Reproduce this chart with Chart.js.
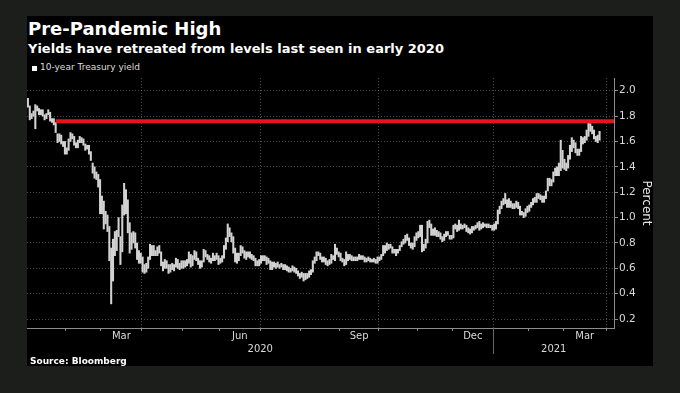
<!DOCTYPE html>
<html>
<head>
<meta charset="utf-8">
<script src="https://cdn.jsdelivr.net/npm/chart.js@4.4.1/dist/chart.umd.min.js"></script>
<style>
  html, body { margin: 0; padding: 0; background: #1c1e1c; }
  body { width: 680px; height: 393px; position: relative; overflow: hidden; font-family: "DejaVu Sans", sans-serif; }
  #panel { position: absolute; left: 27px; top: 16px; width: 626px; height: 350px; background: #000; }
  .txt { position: absolute; white-space: nowrap; }
  #title { left: 28px; top: 20px; font: bold 18px/18px "DejaVu Sans"; color: #fff; }
  #subtitle { left: 28px; top: 42px; font: bold 13px/13px "DejaVu Sans"; color: #fff; }
  #legendBox { position: absolute; left: 32px; top: 66px; width: 5px; height: 5px; background: #fff; }
  #legend { left: 40px; top: 63px; font: 9px/9px "DejaVu Sans"; color: #ddd; }
  #source { left: 30px; top: 357px; font: bold 9px/9px "DejaVu Sans"; color: #fff; }
  #chart { position: absolute; left: 27px; top: 60px; }
</style>
</head>
<body>
<div id="panel"></div>
<div class="txt" id="title">Pre-Pandemic High</div>
<div class="txt" id="subtitle">Yields have retreated from levels last seen in early 2020</div>
<div id="legendBox"></div>
<div class="txt" id="legend">10-year Treasury yield</div>
<canvas id="chart" width="626" height="300"></canvas>
<div class="txt" id="source">Source: Bloomberg</div>
<script>
// trading days shown on the chart, one row per month
const months = ['2020-01', '2020-02', '2020-03', '2020-04', '2020-05', '2020-06', '2020-07', '2020-08',
  '2020-09', '2020-10', '2020-11', '2020-12', '2021-01', '2021-02', '2021-03'];
const tradingDays = [
  [2, 3, 6, 7, 8, 9, 10, 13, 14, 15, 16, 17, 21, 22, 23, 24, 27, 28, 29, 30, 31],
  [3, 4, 5, 6, 7, 10, 11, 12, 13, 14, 18, 19, 20, 21, 24, 25, 26, 27, 28],
  [2, 3, 4, 5, 6, 9, 10, 11, 12, 13, 16, 17, 18, 19, 20, 23, 24, 25, 26, 27, 30, 31],
  [1, 2, 3, 6, 7, 8, 9, 10, 13, 14, 15, 16, 17, 20, 21, 22, 23, 24, 27, 28, 29, 30],
  [1, 4, 5, 6, 7, 8, 11, 12, 13, 14, 15, 18, 19, 20, 21, 22, 26, 27, 28, 29],
  [1, 2, 3, 4, 5, 8, 9, 10, 11, 12, 15, 16, 17, 18, 19, 22, 23, 24, 25, 26, 29, 30],
  [1, 2, 6, 7, 8, 9, 10, 13, 14, 15, 16, 17, 20, 21, 22, 23, 24, 27, 28, 29, 30, 31],
  [3, 4, 5, 6, 7, 10, 11, 12, 13, 14, 17, 18, 19, 20, 21, 24, 25, 26, 27, 28, 31],
  [1, 2, 3, 4, 8, 9, 10, 11, 14, 15, 16, 17, 18, 21, 22, 23, 24, 25, 28, 29, 30],
  [1, 2, 5, 6, 7, 8, 9, 13, 14, 15, 16, 19, 20, 21, 22, 23, 26, 27, 28, 29, 30],
  [2, 3, 4, 5, 6, 9, 10, 12, 13, 16, 17, 18, 19, 20, 23, 24, 25, 27, 30],
  [1, 2, 3, 4, 7, 8, 9, 10, 11, 14, 15, 16, 17, 18, 21, 22, 23, 24, 28, 29, 30, 31],
  [4, 5, 6, 7, 8, 11, 12, 13, 14, 15, 19, 20, 21, 22, 25, 26, 27, 28, 29],
  [1, 2, 3, 4, 5, 8, 9, 10, 11, 12, 16, 17, 18, 19, 22, 23, 24, 25, 26],
  [1, 2, 3, 4, 5, 8, 9, 10, 11, 12, 15, 16, 17, 18, 19, 22, 23, 24, 25, 26, 29, 30, 31]
];

// daily low / high of the 10-year yield (percent), one row per month
const lows = [
  1.87, 1.77, 1.78, 1.80, 1.70, 1.84, 1.81, 1.81, 1.80, 1.77, 1.78, 1.81, 1.76, 1.75, 1.73, 1.67, 1.59, 1.60, 1.58, 1.56, 1.50,
  1.50, 1.53, 1.60, 1.62, 1.57, 1.55, 1.55, 1.59, 1.59, 1.57, 1.53, 1.54, 1.50, 1.45, 1.35, 1.31, 1.30, 1.24, 1.03,
  1.03, 0.91, 0.95, 0.89, 0.66, 0.32, 0.50, 0.70, 0.74, 0.85, 0.63, 0.73, 1.02, 1.03, 0.88, 0.72, 0.75, 0.80, 0.76, 0.67, 0.64, 0.64,
  0.57, 0.56, 0.57, 0.60, 0.67, 0.70, 0.70, 0.70, 0.70, 0.72, 0.62, 0.58, 0.60, 0.60, 0.56, 0.57, 0.59, 0.58, 0.61, 0.60, 0.59, 0.60,
  0.60, 0.61, 0.62, 0.64, 0.61, 0.62, 0.67, 0.66, 0.63, 0.60, 0.61, 0.65, 0.69, 0.67, 0.65, 0.64, 0.66, 0.66, 0.67, 0.63,
  0.64, 0.65, 0.68, 0.75, 0.81, 0.85, 0.81, 0.72, 0.65, 0.64, 0.66, 0.70, 0.72, 0.68, 0.67, 0.69, 0.68, 0.67, 0.66, 0.62, 0.62, 0.62,
  0.64, 0.66, 0.66, 0.63, 0.64, 0.59, 0.59, 0.61, 0.60, 0.61, 0.60, 0.61, 0.59, 0.59, 0.58, 0.57, 0.57, 0.58, 0.57, 0.56, 0.54, 0.52,
  0.53, 0.50, 0.51, 0.52, 0.53, 0.55, 0.57, 0.64, 0.66, 0.70, 0.67, 0.65, 0.65, 0.63, 0.62, 0.63, 0.64, 0.67, 0.66, 0.71, 0.69,
  0.66, 0.65, 0.62, 0.63, 0.66, 0.67, 0.66, 0.66, 0.66, 0.66, 0.67, 0.67, 0.67, 0.65, 0.65, 0.66, 0.65, 0.65, 0.65, 0.64, 0.64,
  0.66, 0.67, 0.70, 0.72, 0.74, 0.75, 0.76, 0.72, 0.72, 0.70, 0.72, 0.74, 0.77, 0.79, 0.80, 0.82, 0.78, 0.76, 0.75, 0.77, 0.82,
  0.84, 0.85, 0.73, 0.74, 0.76, 0.80, 0.92, 0.86, 0.86, 0.86, 0.85, 0.85, 0.83, 0.81, 0.82, 0.85, 0.86, 0.83, 0.83,
  0.84, 0.91, 0.89, 0.90, 0.91, 0.91, 0.92, 0.89, 0.88, 0.87, 0.88, 0.90, 0.91, 0.92, 0.90, 0.91, 0.92, 0.93, 0.92, 0.92, 0.92, 0.90,
  0.90, 0.91, 0.95, 1.03, 1.07, 1.10, 1.11, 1.08, 1.08, 1.08, 1.07, 1.07, 1.08, 1.07, 1.02, 1.02, 1.00, 1.01, 1.04,
  1.05, 1.08, 1.10, 1.12, 1.12, 1.15, 1.14, 1.12, 1.12, 1.15, 1.21, 1.25, 1.25, 1.28, 1.33, 1.33, 1.33, 1.37, 1.39,
  1.38, 1.37, 1.39, 1.46, 1.52, 1.55, 1.51, 1.49, 1.49, 1.52, 1.58, 1.59, 1.61, 1.64, 1.68, 1.66, 1.62, 1.60, 1.59, 1.61
];
const highs = [
  1.94, 1.88, 1.82, 1.84, 1.89, 1.88, 1.86, 1.85, 1.85, 1.81, 1.82, 1.85, 1.83, 1.78, 1.78, 1.75, 1.66, 1.66, 1.65, 1.60, 1.60,
  1.55, 1.62, 1.67, 1.66, 1.64, 1.59, 1.61, 1.64, 1.63, 1.62, 1.58, 1.57, 1.57, 1.52, 1.43, 1.40, 1.36, 1.34, 1.30,
  1.17, 1.13, 1.05, 1.02, 0.93, 0.76, 0.83, 0.89, 0.90, 1.00, 0.85, 1.10, 1.27, 1.22, 1.14, 0.96, 0.88, 0.89, 0.88, 0.80, 0.74, 0.72,
  0.69, 0.63, 0.64, 0.69, 0.79, 0.78, 0.78, 0.74, 0.77, 0.78, 0.73, 0.65, 0.67, 0.66, 0.63, 0.63, 0.64, 0.63, 0.68, 0.67, 0.64, 0.66,
  0.66, 0.66, 0.67, 0.73, 0.71, 0.70, 0.74, 0.73, 0.68, 0.66, 0.66, 0.75, 0.74, 0.71, 0.70, 0.68, 0.72, 0.70, 0.72, 0.70,
  0.68, 0.70, 0.78, 0.84, 0.95, 0.92, 0.88, 0.85, 0.76, 0.72, 0.72, 0.78, 0.77, 0.74, 0.73, 0.73, 0.73, 0.71, 0.70, 0.68, 0.66, 0.67,
  0.70, 0.70, 0.70, 0.69, 0.68, 0.66, 0.65, 0.65, 0.64, 0.65, 0.63, 0.64, 0.63, 0.63, 0.62, 0.61, 0.60, 0.62, 0.61, 0.60, 0.58, 0.56,
  0.57, 0.56, 0.56, 0.56, 0.58, 0.59, 0.66, 0.69, 0.73, 0.73, 0.72, 0.69, 0.69, 0.68, 0.66, 0.67, 0.71, 0.70, 0.79, 0.76, 0.73,
  0.72, 0.68, 0.67, 0.73, 0.71, 0.71, 0.70, 0.69, 0.69, 0.69, 0.71, 0.70, 0.70, 0.69, 0.68, 0.69, 0.68, 0.67, 0.68, 0.67, 0.69,
  0.69, 0.71, 0.78, 0.78, 0.80, 0.79, 0.79, 0.77, 0.75, 0.75, 0.75, 0.78, 0.81, 0.83, 0.86, 0.87, 0.84, 0.80, 0.80, 0.85, 0.88,
  0.89, 0.94, 0.94, 0.79, 0.83, 0.97, 0.98, 0.95, 0.91, 0.92, 0.90, 0.89, 0.88, 0.85, 0.87, 0.89, 0.89, 0.86, 0.86,
  0.94, 0.95, 0.94, 0.98, 0.95, 0.94, 0.95, 0.94, 0.92, 0.91, 0.93, 0.93, 0.94, 0.96, 0.97, 0.95, 0.96, 0.95, 0.95, 0.95, 0.94, 0.94,
  0.95, 0.97, 1.06, 1.09, 1.13, 1.15, 1.19, 1.14, 1.15, 1.13, 1.11, 1.11, 1.13, 1.12, 1.09, 1.05, 1.04, 1.07, 1.09,
  1.10, 1.12, 1.15, 1.16, 1.19, 1.19, 1.18, 1.17, 1.17, 1.21, 1.31, 1.31, 1.30, 1.36, 1.39, 1.40, 1.43, 1.61, 1.53,
  1.46, 1.43, 1.49, 1.57, 1.63, 1.61, 1.59, 1.54, 1.54, 1.64, 1.63, 1.64, 1.69, 1.75, 1.74, 1.72, 1.69, 1.64, 1.65, 1.68
];

const labelMonths = ['2020-03', '2020-06', '2020-09', '2020-12', '2021-03'];
const monthLabels = ['Mar', 'Jun', 'Sep', 'Dec', 'Mar'];
const gridMonths = ['2020-04', '2020-07', '2020-10', '2021-01'];
const years = ['2020', '2021'];
const yLabelTicks = [0.2, 0.4, 0.6, 0.8, 1.0, 1.2, 1.4, 1.6, 1.8, 2.0];
const yMinorTicks = [0.3, 0.5, 0.7, 0.9, 1.1, 1.3, 1.5, 1.7, 1.9, 2.1];
const prePandemicHigh = 1.76;
const highFrom = '2020-01-24';

// positions on the trading-day axis
const dates = [];
const monthStart = {};
months.forEach((m, i) => {
    monthStart[m] = dates.length;
    tradingDays[i].forEach(d => dates.push(m + '-' + String(d).padStart(2, '0')));
});
const xMin = -0.5;
const xMax = dates.length + 3.8;
const endBoundary = dates.length - 0.5;
const boundaries = months.slice(1).map(m => monthStart[m] - 0.5).concat([endBoundary]);
const gridSet = new Set(gridMonths.map(m => monthStart[m] - 0.5).concat([endBoundary]));
const labelPos = new Map();
labelMonths.forEach((m, i) => {
    const first = monthStart[m];
    const last = first + tradingDays[months.indexOf(m)].length - 1;
    labelPos.set((first + last) / 2, monthLabels[i]);
});
const xTicks = boundaries.concat([...labelPos.keys()]).sort((a, b) => a - b);
const yearBreak = monthStart['2021-01'] - 0.5;
const yMajor = new Set(yLabelTicks);
const yTicks = yLabelTicks.concat(yMinorTicks).sort((a, b) => a - b);

const bars = lows.map((lo, i) => ({x: i, y: [lo, highs[i]]}));

const gridColor = 'rgba(150,150,150,0.5)';
const axisColor = '#8c8c8c';
const textColor = '#d9d9d9';

const yearAxis = {
    id: 'yearAxis',
    afterDraw(chart) {
        const {ctx, chartArea, scales: {x}} = chart;
        const xb = Math.round(x.getPixelForValue(yearBreak)) + 0.5;
        ctx.save();
        ctx.strokeStyle = '#666';
        ctx.lineWidth = 1;
        ctx.beginPath();
        ctx.moveTo(xb, chartArea.bottom);
        ctx.lineTo(xb, chartArea.bottom + 26);
        ctx.stroke();
        ctx.fillStyle = textColor;
        ctx.font = '10px "DejaVu Sans"';
        ctx.textAlign = 'center';
        ctx.textBaseline = 'middle';
        ctx.fillText(years[0], (chartArea.left + xb) / 2, chartArea.bottom + 21);
        ctx.fillText(years[1], (xb + chartArea.right) / 2, chartArea.bottom + 21);
        ctx.restore();
    }
};

new Chart(document.getElementById('chart'), {
    type: 'bar',
    data: {
        datasets: [
            {
                type: 'line',
                data: [{x: dates.indexOf(highFrom), y: prePandemicHigh}, {x: xMax, y: prePandemicHigh}],
                borderColor: '#e8131c',
                borderWidth: 4,
                pointRadius: 0,
                order: 0
            },
            {
                type: 'bar',
                label: '10-year Treasury yield',
                data: bars,
                backgroundColor: '#d2d2d2',
                barThickness: 1.4,
                order: 1
            }
        ]
    },
    options: {
        responsive: false,
        animation: false,
        devicePixelRatio: 1,
        layout: {padding: {top: 18, left: 0, right: 0, bottom: 0}},
        plugins: {legend: {display: false}, tooltip: {enabled: false}},
        scales: {
            x: {
                type: 'linear',
                min: xMin,
                max: xMax,
                offset: false,
                afterBuildTicks: axis => { axis.ticks = xTicks.map(v => ({value: v})); },
                afterFit: axis => { axis.height = 32; },
                ticks: {
                    autoSkip: false,
                    maxRotation: 0,
                    minRotation: 0,
                    padding: -1,
                    color: textColor,
                    font: {family: 'DejaVu Sans', size: 10},
                    callback: v => labelPos.get(v) || ''
                },
                grid: {
                    offset: false,
                    color: c => (c.tick && gridSet.has(c.tick.value)) ? gridColor : 'transparent',
                    tickColor: c => (c.tick && labelPos.has(c.tick.value)) ? 'transparent' : axisColor,
                    tickLength: 3
                },
                border: {color: axisColor, dash: [1, 2]}
            },
            y: {
                position: 'right',
                min: 0.13,
                max: 2.1,
                afterBuildTicks: axis => { axis.ticks = yTicks.map(v => ({value: v})); },
                afterFit: axis => { axis.width = 39; },
                ticks: {
                    padding: 1,
                    color: textColor,
                    font: {family: 'DejaVu Sans', size: 10.5},
                    callback: v => yMajor.has(v) ? v.toFixed(1) : ''
                },
                grid: {
                    color: c => (c.tick && yMajor.has(c.tick.value)) ? gridColor : 'transparent',
                    tickColor: axisColor,
                    tickLength: 4
                },
                border: {color: axisColor, dash: [1, 2]},
                title: {
                    display: true,
                    text: 'Percent',
                    color: '#e6e6e6',
                    font: {family: 'DejaVu Sans', size: 12},
                    padding: {top: 0, bottom: 0}
                }
            }
        }
    },
    plugins: [yearAxis]
});
</script>
</body>
</html>
